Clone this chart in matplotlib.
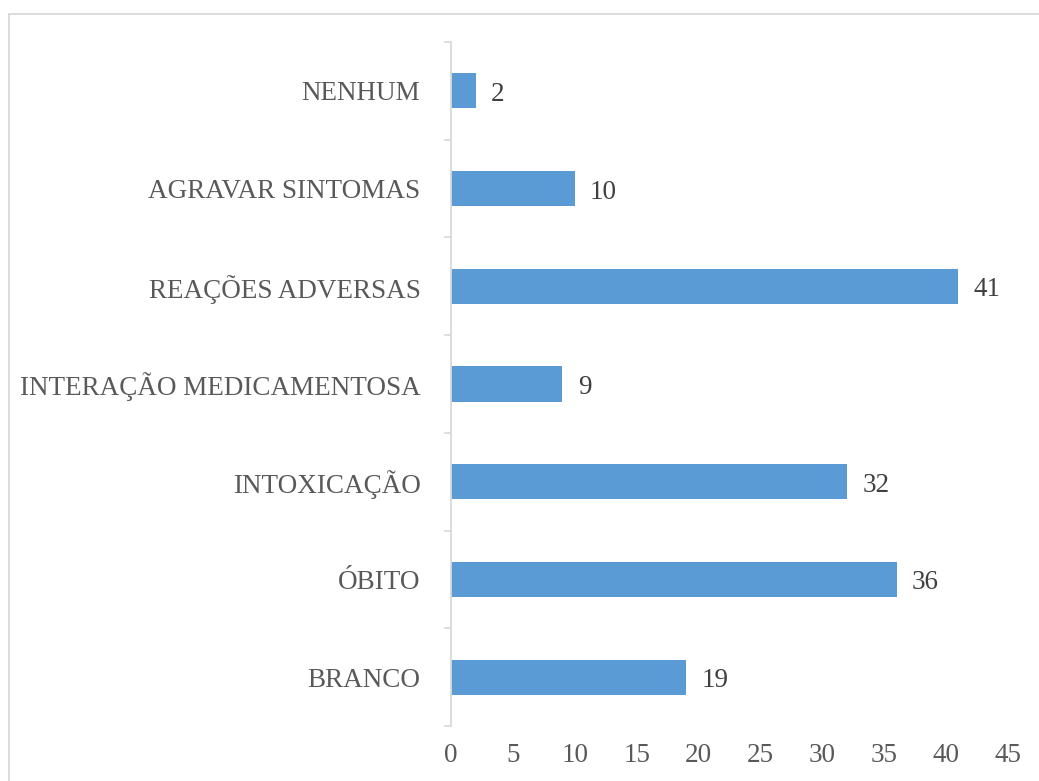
import matplotlib.pyplot as plt
from matplotlib.patches import Rectangle
from matplotlib.ticker import FixedLocator

categories = ["BRANCO", "ÓBITO", "INTOXICAÇÃO", "INTERAÇÃO MEDICAMENTOSA",
              "REAÇÕES ADVERSAS", "AGRAVAR SINTOMAS", "NENHUM"]
values = [19, 36, 32, 9, 41, 10, 2]
x_ticks = [0, 5, 10, 15, 20, 25, 30, 35, 40, 45]

plt.rcParams["font.family"] = ["Liberation Serif", "DejaVu Serif"]

fig = plt.figure(figsize=(10.39, 7.81), dpi=100)
ax = fig.add_axes([451 / 1039, 1 - 726 / 781, (1008 - 451) / 1039, 684 / 781])

pos = list(range(len(categories)))
ax.barh(pos, values, height=0.36, color="#5B9BD5")

for p, v in zip(pos, values):
    ax.annotate(str(v), (v, p), xytext=(11, -2.5), textcoords="offset points",
                va="center", ha="left", fontsize=19.5, color="#404040")

ax.set_xlim(0, 45)
ax.set_ylim(-0.5, len(categories) - 0.5)
ax.set_xticks(x_ticks)
ax.set_yticks(pos)
ax.set_yticklabels(categories)
ax.yaxis.set_minor_locator(FixedLocator([i - 0.5 for i in range(len(categories) + 1)]))

ax.tick_params(axis="y", which="major", length=0, pad=22, labelsize=19.5, labelcolor="#595959")
ax.tick_params(axis="y", which="minor", length=5, width=1.2, color="#d9d9d9")
ax.tick_params(axis="x", length=0, pad=12.5, labelsize=19.5, labelcolor="#595959")

for s in ["top", "right", "bottom"]:
    ax.spines[s].set_visible(False)
ax.spines["left"].set_color("#d9d9d9")
ax.spines["left"].set_linewidth(1.3)

# chart frame, runs off the right and bottom edge
fig.patches.append(Rectangle((9 / 1039, -0.05), 1.1, 1 - 14 / 781 + 0.05,
                             transform=fig.transFigure, fill=False,
                             edgecolor="#d9d9d9", linewidth=1.3))

fig.savefig("out.png", dpi=100)
